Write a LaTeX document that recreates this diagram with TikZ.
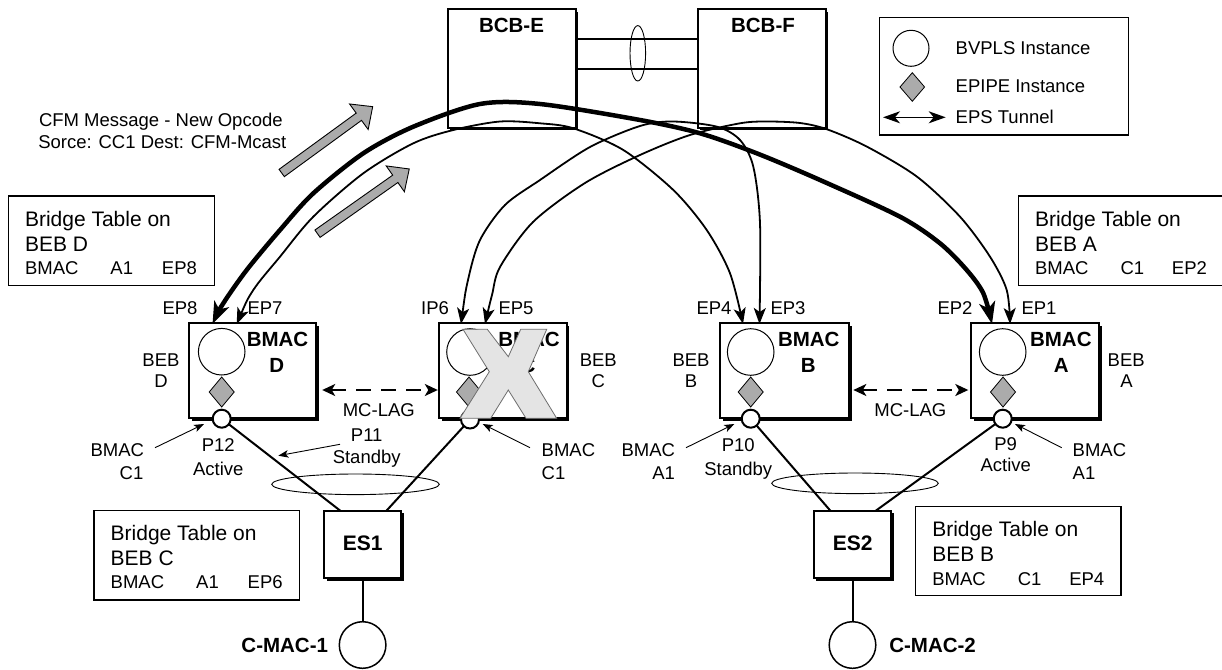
\documentclass[tikz,border=0pt]{standalone}
\usepackage{fontspec}
\setmainfont{Liberation Sans}
\usetikzlibrary{arrows.meta,shapes.geometric,shadows,calc}
\definecolor{gfill}{HTML}{ABABAB}
\definecolor{xfill}{HTML}{E4E4E4}
\definecolor{xline}{HTML}{6E6E6E}
\newcommand{\tabrow}[3]{\makebox[85.5pt][l]{#1}\makebox[51.5pt][l]{#2}#3}
\begin{document}
\begin{tikzpicture}[x=1pt,y=-1pt,
  every node/.style={inner sep=0pt, outer sep=0pt},
  txt/.style={font=\fontsize{18.5}{21}\selectfont},
  hdr/.style={font=\fontsize{21}{25}\selectfont},
  bld/.style={font=\bfseries\fontsize{20.5}{24}\selectfont},
  sbox/.style={draw, line width=2pt, fill=white,
    drop shadow={shadow xshift=2.5pt,shadow yshift=-2.5pt,fill=black,opacity=1}},
  tbox/.style={draw, line width=1.1pt},
  inst/.style={circle, draw, line width=1pt, fill=white, minimum size=46.6pt},
  epipe/.style={diamond, draw, fill=gfill, line width=0.8pt, minimum width=25pt, minimum height=30pt},
  port/.style={circle, draw, line width=2pt, fill=white, minimum size=18pt},
  lagring/.style={draw, ellipse, line width=0.9pt},
  plink/.style={line width=2pt},
  tunthick/.style={line width=4.5pt, {Stealth[length=22pt,width=16pt,inset=6pt]}-{Stealth[length=22pt,width=16pt,inset=6pt]}},
  tunthin/.style={line width=1.8pt, {Stealth[length=16pt,width=12pt,inset=4pt]}-{Stealth[length=16pt,width=12pt,inset=4pt]}},
  legarrow/.style={line width=1.6pt, {Stealth[length=17pt,width=12pt,inset=5pt]}-{Stealth[length=17pt,width=12pt,inset=5pt]}},
  mclag/.style={line width=2pt, dash pattern=on 15pt off 10pt, {Stealth[length=13pt,width=12pt,inset=3.5pt]}-{Stealth[length=13pt,width=12pt,inset=3.5pt]}},
  ann/.style={line width=0.9pt, -{Stealth[length=10pt,width=7.5pt,inset=2.5pt]}},
  blockarrow/.style={draw=black, fill=gfill, line width=0.9pt, line join=miter},
]
\useasboundingbox (0,0) rectangle (1222,669);

% ---------- legend ----------
\node[tbox, minimum width=249pt, minimum height=117.3pt] (leg) at (1004.2,76.35) {};
\node[inst, minimum size=36pt] (legC) at (911,48.3) {};
\node[epipe, minimum width=24.6pt, minimum height=28.6pt] (legD) at (912.3,87) {};
\coordinate (legA1) at (883,117.3);
\coordinate (legA2) at (945.7,117.3);
\draw[legarrow] (legA1) -- (legA2);
\node[txt, anchor=base west] (legT1) at (955.7,55) {BVPLS Instance};
\node[txt, anchor=base west] (legT2) at (955.7,92.7) {EPIPE Instance};
\node[txt, anchor=base west] (legT3) at (955.7,123.3) {EPS Tunnel};

% ---------- bridge tables ----------
\node[tbox, minimum width=206pt, minimum height=89.7pt] (tD) at (111.3,240.85) {};
\node[hdr, anchor=base west] (tD1) at (25,226) {Bridge Table on};
\node[hdr, anchor=base west] (tD2) at (25,251.7) {BEB D};
\node[txt, anchor=base west] (tD3) at (25,274) {\tabrow{BMAC}{A1}{EP8}};

\node[tbox, minimum width=204pt, minimum height=89.7pt] (tA) at (1120.3,240.85) {};
\node[hdr, anchor=base west] (tA1) at (1035,226.5) {Bridge Table on};
\node[hdr, anchor=base west] (tA2) at (1035,251.7) {BEB A};
\node[txt, anchor=base west] (tA3) at (1035,274) {\tabrow{BMAC}{C1}{EP2}};

\node[tbox, minimum width=205.7pt, minimum height=89.3pt] (tC) at (196.85,555.35) {};
\node[hdr, anchor=base west] (tC1) at (110.7,540.7) {Bridge Table on};
\node[hdr, anchor=base west] (tC2) at (110.7,565.7) {BEB C};
\node[txt, anchor=base west] (tC3) at (110.7,588.3) {\tabrow{BMAC}{A1}{EP6}};

\node[tbox, minimum width=205.7pt, minimum height=89pt] (tB) at (1018.15,551.2) {};
\node[hdr, anchor=base west] (tB1) at (932.3,536.7) {Bridge Table on};
\node[hdr, anchor=base west] (tB2) at (932.3,561.7) {BEB B};
\node[txt, anchor=base west] (tB3) at (932.3,585) {\tabrow{BMAC}{C1}{EP4}};

% ---------- CFM text ----------
\node[txt, anchor=base west] (cfm1) at (39,126) {CFM Message - New Opcode};
\node[txt, anchor=base west] (cfm2) at (38.3,148.7) {Sorce: CC1 Dest: CFM-Mcast};

% ---------- BCB boxes ----------
\node[sbox, minimum width=128pt, minimum height=118.4pt] (bcbE) at (511.7,68.5) {};
\node[sbox, minimum width=128pt, minimum height=118.4pt] (bcbF) at (761.7,68.5) {};
\node[bld, anchor=base] (bcbEt) at (511.5,32.7) {BCB-E};
\node[bld, anchor=base] (bcbFt) at (763,32.7) {BCB-F};
\draw[plink] ([yshift=29.2pt]bcbE.east) -- ([yshift=29.2pt]bcbF.west);
\draw[plink] (bcbE.east) -- (bcbF.west);
\node[lagring, minimum width=15.6pt, minimum height=55.4pt] (lag0) at (637.8,53.3) {};

% ---------- BEB boxes ----------
\node[sbox, minimum width=127pt, minimum height=95pt] (bD) at (252.5,370.5) {};
\node[sbox, minimum width=127.4pt, minimum height=95pt] (bC) at (503,370.5) {};
\node[sbox, minimum width=129.3pt, minimum height=95pt] (bB) at (784.65,370.5) {};
\node[sbox, minimum width=128pt, minimum height=95pt] (bA) at (1035,370.5) {};

\node[inst] (iD) at (221.7,351.7) {};
\node[inst] (iC) at (470,352) {};
\node[inst] (iB) at (750.7,352) {};
\node[inst] (iA) at (1002.7,352) {};

\node[epipe] (dD) at (221.7,392) {};
\node[epipe] (dC) at (469,392) {};
\node[epipe] (dB) at (750.7,392) {};
\node[epipe] (dA) at (1003,392) {};

\node[bld, anchor=base] (bDt1) at (277.5,346.7) {BMAC};
\node[bld, anchor=base] (bDt2) at (276.7,372.7) {D};
\node[bld, anchor=base] (bCt1) at (529,346.7) {BMAC};
\node[bld, anchor=base] (bCt2) at (528,372.7) {C};
\node[bld, anchor=base] (bBt1) at (808.8,346.7) {BMAC};
\node[bld, anchor=base] (bBt2) at (808.3,372.7) {B};
\node[bld, anchor=base] (bAt1) at (1060.8,346.7) {BMAC};
\node[bld, anchor=base] (bAt2) at (1061.2,372.7) {A};

\node[txt, anchor=base] (bebD1) at (161,366.7) {BEB};
\node[txt, anchor=base] (bebD2) at (161,387.7) {D};
\node[txt, anchor=base] (bebC1) at (598.3,366.7) {BEB};
\node[txt, anchor=base] (bebC2) at (598.3,387.7) {C};
\node[txt, anchor=base] (bebB1) at (691,366.7) {BEB};
\node[txt, anchor=base] (bebB2) at (691,387.7) {B};
\node[txt, anchor=base] (bebA1) at (1126.2,366.7) {BEB};
\node[txt, anchor=base] (bebA2) at (1126.5,387.7) {A};

% EP labels
\node[txt, anchor=base] (lEP8) at (180,314) {EP8};
\node[txt, anchor=base] (lEP7) at (265,314) {EP7};
\node[txt, anchor=base] (lIP6) at (435,314) {IP6};
\node[txt, anchor=base] (lEP5) at (516,314) {EP5};
\node[txt, anchor=base] (lEP4) at (714,314) {EP4};
\node[txt, anchor=base] (lEP3) at (788,314) {EP3};
\node[txt, anchor=base] (lEP2) at (955,314) {EP2};
\node[txt, anchor=base] (lEP1) at (1039,314) {EP1};

% MC-LAG
\draw[mclag] ($(bD.east)+(6.2,19.5)$) -- ($(bC.west)+(-1.5,19.5)$);
\draw[mclag] ($(bB.east)+(4,19.5)$) -- ($(bA.west)+(-2.7,19.5)$);
\node[txt, anchor=base] (mcl1) at (378.8,416.7) {MC-LAG};
\node[txt, anchor=base] (mcl2) at (910.3,416.7) {MC-LAG};

% ---------- ES / C-MAC ----------
\node[sbox, minimum width=77pt, minimum height=67.6pt] (es1) at (362.6,544.5) {};
\node[sbox, minimum width=77.7pt, minimum height=67.6pt] (es2) at (852.5,544.5) {};
\node[bld, font=\bfseries\fontsize{21}{24}\selectfont, anchor=base] (es1t) at (362.6,550) {ES1};
\node[bld, font=\bfseries\fontsize{21}{24}\selectfont, anchor=base] (es2t) at (852.7,550) {ES2};
\node[circle, draw, line width=1.5pt, minimum size=46.6pt] (cm1) at (362.6,645) {};
\node[circle, draw, line width=1.5pt, minimum size=46.6pt] (cm2) at (852.5,645) {};
\draw[plink] (es1) -- (cm1);
\draw[plink] (es2) -- (cm2);
\node[bld, anchor=base east] (cm1t) at (328,652.3) {C-MAC-1};
\node[bld, anchor=base west] (cm2t) at (889.3,652.3) {C-MAC-2};

% ports
\node[port] (pD) at (221.7,418.7) {};
\node[port] (pC) at (470,419.5) {};
\node[port] (pB) at (750.7,418.7) {};
\node[port] (pA) at (1002.7,418.7) {};
\draw[plink] (pD) -- ($(es1.north west)!0.21!(es1.north east)$);
\draw[plink] (pC) -- ($(es1.north west)!0.81!(es1.north east)$);
\draw[plink] (pB) -- ($(es2.north west)!0.215!(es2.north east)$);
\draw[plink] (pA) -- ($(es2.north west)!0.80!(es2.north east)$);
\node[lagring, minimum width=167.6pt, minimum height=20.6pt] (lag1) at (355.5,484.3) {};
\node[lagring, minimum width=166.6pt, minimum height=20.6pt] (lag2) at (855,483.3) {};

% ---------- annotations ----------
\node[txt, anchor=base east] (aD1) at (144,456) {BMAC};
\node[txt, anchor=base east] (aD2) at (143.3,479) {C1};
\node[txt, anchor=base] (p12a) at (218.3,451.7) {P12};
\node[txt, anchor=base] (p12b) at (218.3,475) {Active};
\node[txt, anchor=base] (p11a) at (366.7,441.7) {P11};
\node[txt, anchor=base] (p11b) at (366.7,463.3) {Standby};
\node[txt, anchor=base west] (aC1) at (541.7,456) {BMAC};
\node[txt, anchor=base west] (aC2) at (541.7,479) {C1};
\node[txt, anchor=base east] (aB1) at (675,456) {BMAC};
\node[txt, anchor=base east] (aB2) at (675,479) {A1};
\node[txt, anchor=base] (p10a) at (738.3,451.7) {P10};
\node[txt, anchor=base] (p10b) at (738.3,475) {Standby};
\node[txt, anchor=base] (p9a) at (1005.7,450) {P9};
\node[txt, anchor=base] (p9b) at (1005.7,471.7) {Active};
\node[txt, anchor=base west] (aA1) at (1072.7,456) {BMAC};
\node[txt, anchor=base west] (aA2) at (1072.7,479) {A1};

\coordinate (aDs) at (155,447.7);   \coordinate (aDe) at (204,424);
\coordinate (p11s) at (340,444.3);  \coordinate (p11e) at (278.3,455.7);
\coordinate (aCs) at (530,447.7);   \coordinate (aCe) at (482.7,424);
\coordinate (aBs) at (686,447.7);   \coordinate (aBe) at (734.3,424);
\coordinate (aAs) at (1061.7,447.7);\coordinate (aAe) at (1015,424);
\draw[ann] (aDs) -- (aDe);
\draw[ann] (p11s) -- (p11e);
\draw[ann] (aCs) -- (aCe);
\draw[ann] (aBs) -- (aBe);
\draw[ann] (aAs) -- (aAe);

% ---------- failed BEB C ----------
\draw[draw=xline, fill=xfill, line width=0.8pt, line join=miter]
  (463,329.3) -- (487.3,329.3) -- (508.3,356.7) -- (520.7,329.3) -- (546.7,329.3)
  -- (528.3,371.7) -- (556.7,418.3) -- (526,418.3) -- (508.3,390) -- (490.7,418.3)
  -- (460,418.3) -- (489.3,371.7) -- cycle;

% ---------- EPS tunnels ----------
\coordinate (ep8) at (212.5,324);
\coordinate (ep7) at (236.7,324);
\coordinate (ip6) at (461,324);
\coordinate (ep5) at (485,324);
\coordinate (ep4) at (743,324);
\coordinate (ep3) at (759.5,324);
\coordinate (ep2) at (992,324);
\coordinate (ep1) at (1010,324);

\draw[tunthick] plot[smooth, tension=0.5] coordinates {(ep8) (223.3,303.3) (246.7,270) (280,230)
  (313.3,193.3) (363.3,153.3) (413.3,126.7) (480,104) (540,104) (640,120) (700,133.3)
  (756.7,153.3) (820,180) (900,216.7) (940,243.3) (966.7,270) (983.3,293.3) (ep2)};
\draw[tunthin] plot[smooth, tension=0.5] coordinates {(ep7) (253.3,290) (280,256.7) (313.3,216.7)
  (363.3,173.3) (413.3,143.3) (453.3,130) (500,121.5) (540,123.3) (573.3,128.3) (623.3,150)
  (673.3,190) (706.7,230) (730,273.3) (ep4)};
\draw[tunthin] plot[smooth, tension=0.5] coordinates {(ip6) (468,280) (480,240) (505,205)
  (540,180) (590,147) (640,126) (673,121.5) (717,126.7) (740,140) (753.3,166.7) (760,223.3) (ep3)};
\draw[tunthin] plot[smooth, tension=0.5] coordinates {(ep5) (492,295) (500,267) (533,222)
  (585,183) (640,155) (690,135) (740,123.3) (767,121.5) (800,123) (827,129.3) (867,146.7)
  (917,176.7) (960,216.7) (990,256.7) (1006.7,290) (ep1)};

% ---------- CFM block arrows ----------
\begin{scope}[shift={(281.7,173)}, rotate=36.1]
  \draw[blockarrow] (0,-4.5) -- (95.5,-4.5) -- (95.5,-15.8) -- (112.6,0) -- (95.5,15.8) -- (95.5,4.5) -- (0,4.5) -- cycle;
\end{scope}
\begin{scope}[shift={(317.5,233.7)}, rotate=35.2]
  \draw[blockarrow] (0,-4.5) -- (95.2,-4.5) -- (95.2,-15.8) -- (112.3,0) -- (95.2,15.8) -- (95.2,4.5) -- (0,4.5) -- cycle;
\end{scope}
\end{tikzpicture}
\end{document}
